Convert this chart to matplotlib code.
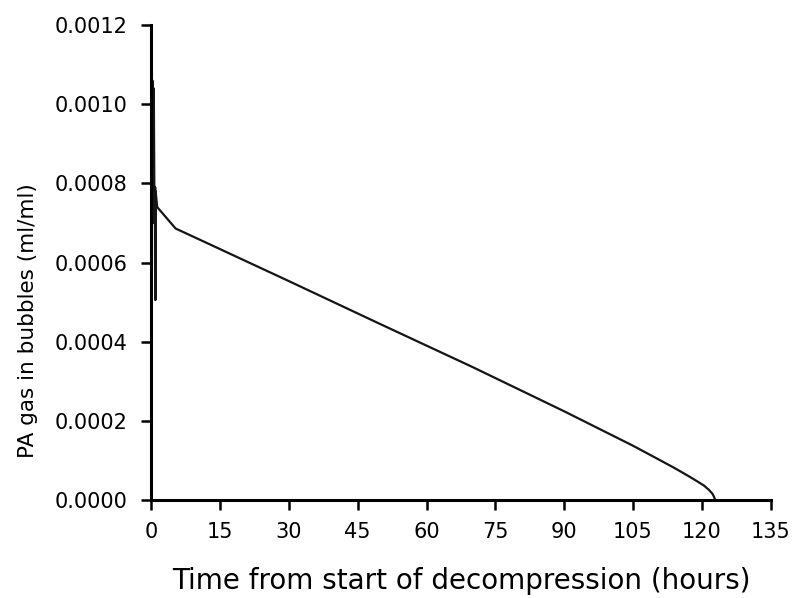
import numpy as np
import matplotlib
matplotlib.use("Agg")
import matplotlib.pyplot as plt
from matplotlib.ticker import FormatStrFormatter

# =========================================================
# DATA
# =========================================================

# hours from start of decompression
time_h = [
    0.0, 0.25, 0.40, 0.55, 0.70, 0.85, 0.90, 0.95, 1.30,
    5.3, 12.0, 30.0, 50.0, 70.0, 90.0, 105.0,
    110.0, 114.0, 117.0, 119.0, 120.5, 121.5, 122.3, 122.7, 122.9,
]

# PA gas in bubbles (ml/ml)
gas_ml = [
    0.0, 0.00106, 0.00070, 0.00104, 0.00072, 0.00079, 0.000505, 0.00078, 0.00074,
    0.000686, 0.000650, 0.000553, 0.000444, 0.000336, 0.000224, 0.000137,
    0.000106, 0.000081, 0.000061, 0.000047, 0.000036, 0.000026, 0.000016, 0.000007, 0.0,
]

x_ticks = np.arange(0, 136, 15)
y_ticks = np.arange(0, 0.00121, 0.0002)

# =========================================================
# PLOT
# =========================================================

plt.rcParams["font.family"] = ["DejaVu Sans"]

fig = plt.figure(figsize=(7.92, 5.98), dpi=100)
ax = fig.add_axes([0.191, 0.164, 0.782, 0.794])

ax.plot(time_h, gas_ml, color="#151515", linewidth=1.6)

ax.set_xlim(0, 135)
ax.set_ylim(0, 0.0012)
ax.set_xticks(x_ticks)
ax.set_yticks(y_ticks)
ax.yaxis.set_major_formatter(FormatStrFormatter("%.4f"))

for side in ["top", "right"]:
    ax.spines[side].set_visible(False)
for side in ["left", "bottom"]:
    ax.spines[side].set_linewidth(2.2)

ax.tick_params(axis="both", direction="out", length=7, width=1.8,
               labelsize=15)
ax.tick_params(axis="x", pad=9)
ax.tick_params(axis="y", pad=10)

ax.set_xlabel("Time from start of decompression (hours)", fontsize=20,
              labelpad=18)
ax.set_ylabel("PA gas in bubbles (ml/ml)", fontsize=15.5)
# label sits lower than the axis centre in the original
ax.yaxis.set_label_coords(-0.183, 0.377)

plt.savefig("out.png", dpi=100)
plt.close()
